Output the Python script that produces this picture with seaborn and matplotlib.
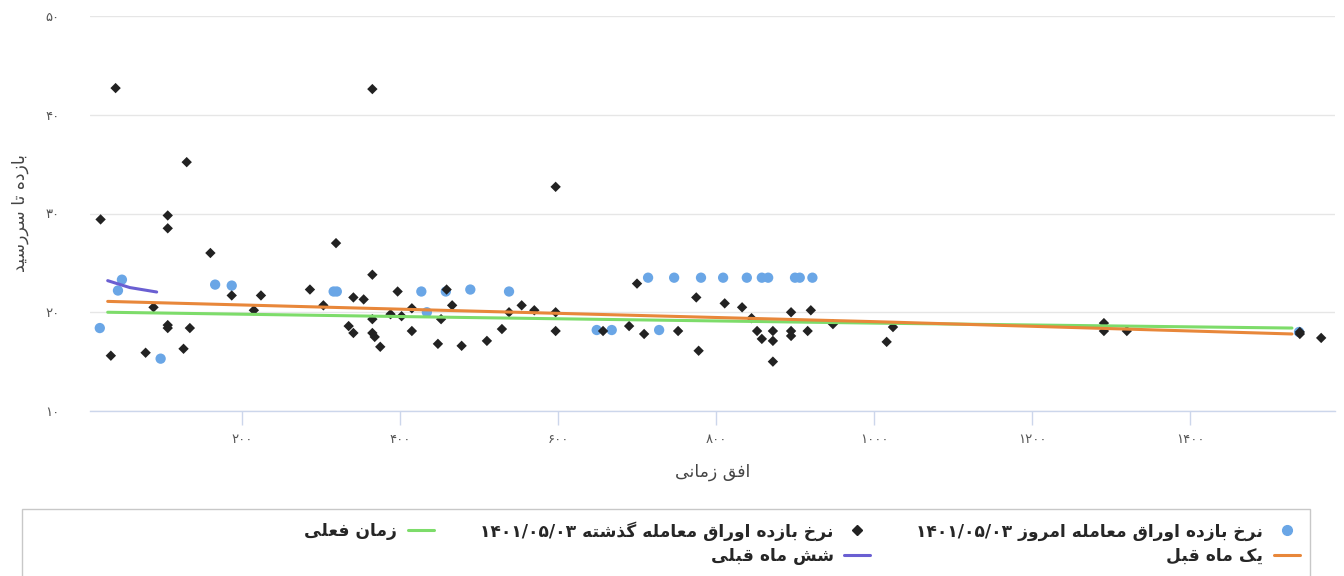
import re
import matplotlib
matplotlib.use("Agg")
import matplotlib.pyplot as plt
from matplotlib.lines import Line2D
from matplotlib.patches import Rectangle
import seaborn as sns
import pandas as pd

# ---------------- data ----------------
today_x = [20, 43, 48, 97, 166, 187, 316, 320, 427, 434, 458, 489, 538,
           649, 668, 728, 714, 747, 781, 809, 839, 858, 866, 900, 906, 922, 1538]
today_y = [18.4, 22.2, 23.3, 15.3, 22.8, 22.7, 22.1, 22.1, 22.1, 20.0, 22.1, 22.3, 22.1,
           18.2, 18.2, 18.2, 23.5, 23.5, 23.5, 23.5, 23.5, 23.5, 23.5, 23.5, 23.5, 23.5, 18.0]

past_x = [21, 40, 34, 78, 88, 106, 106, 106, 106, 130, 126, 134, 160, 187, 224, 215,
          286, 303, 319, 365, 365, 341, 354, 335, 341, 365, 365, 368, 375, 397, 388,
          402, 415, 415, 448, 452, 459, 466, 478, 510, 529, 538, 554, 570, 597, 597,
          597, 657, 690, 700, 709, 752, 775, 778, 811, 833, 845, 852, 858, 872, 872,
          872, 895, 895, 895, 916, 920, 948, 1024, 1016, 1291, 1291, 1320, 1539, 1539, 1566]
past_y = [29.4, 42.7, 15.6, 15.9, 20.5, 29.8, 28.5, 18.7, 18.4, 35.2, 16.3, 18.4, 26.0,
          21.7, 21.7, 20.2, 22.3, 20.7, 27.0, 42.6, 23.8, 21.5, 21.3, 18.6, 17.9, 19.3,
          17.9, 17.5, 16.5, 22.1, 19.8, 19.6, 20.4, 18.1, 16.8, 19.3, 22.3, 20.7, 16.6,
          17.1, 18.3, 20.0, 20.7, 20.2, 32.7, 20.0, 18.1, 18.1, 18.6, 22.9, 17.8, 18.1,
          21.5, 16.1, 20.9, 20.5, 19.4, 18.1, 17.3, 18.1, 17.1, 15.0, 20.0, 18.1, 17.6,
          18.1, 20.2, 18.8, 18.5, 17.0, 18.9, 18.1, 18.1, 18.0, 17.8, 17.4]

now_x = [30, 500, 1000, 1529]
now_y = [20.0, 19.45, 18.9, 18.4]

month_x = [30, 500, 1000, 1529]
month_y = [21.1, 20.1, 19.05, 17.8]

six_x = [30, 58, 92]
six_y = [23.2, 22.5, 22.05]

y_ticks = [10, 20, 30, 40, 50]
x_ticks = [200, 400, 600, 800, 1000, 1200, 1400]

lbl_today = "نرخ بازده اوراق معامله امروز ۱۴۰۱/۰۵/۰۳"
lbl_past = "نرخ بازده اوراق معامله گذشته ۱۴۰۱/۰۵/۰۳"
lbl_now = "زمان فعلی"
lbl_month = "یک ماه قبل"
lbl_six = "شش ماه قبلی"
x_title = "افق زمانی"
y_title = "بازده تا سررسید"

# ---------------- minimal Persian shaping (matplotlib has no RTL layout) ----------------
FORMS = {
    'ا': (0xFE8D, 0xFE8E, None, None), 'ب': (0xFE8F, 0xFE90, 0xFE91, 0xFE92),
    'پ': (0xFB56, 0xFB57, 0xFB58, 0xFB59), 'ت': (0xFE95, 0xFE96, 0xFE97, 0xFE98),
    'ث': (0xFE99, 0xFE9A, 0xFE9B, 0xFE9C), 'ج': (0xFE9D, 0xFE9E, 0xFE9F, 0xFEA0),
    'چ': (0xFB7A, 0xFB7B, 0xFB7C, 0xFB7D), 'ح': (0xFEA1, 0xFEA2, 0xFEA3, 0xFEA4),
    'خ': (0xFEA5, 0xFEA6, 0xFEA7, 0xFEA8), 'د': (0xFEA9, 0xFEAA, None, None),
    'ذ': (0xFEAB, 0xFEAC, None, None), 'ر': (0xFEAD, 0xFEAE, None, None),
    'ز': (0xFEAF, 0xFEB0, None, None), 'ژ': (0xFB8A, 0xFB8B, None, None),
    'س': (0xFEB1, 0xFEB2, 0xFEB3, 0xFEB4), 'ش': (0xFEB5, 0xFEB6, 0xFEB7, 0xFEB8),
    'ص': (0xFEB9, 0xFEBA, 0xFEBB, 0xFEBC), 'ض': (0xFEBD, 0xFEBE, 0xFEBF, 0xFEC0),
    'ط': (0xFEC1, 0xFEC2, 0xFEC3, 0xFEC4), 'ظ': (0xFEC5, 0xFEC6, 0xFEC7, 0xFEC8),
    'ع': (0xFEC9, 0xFECA, 0xFECB, 0xFECC), 'غ': (0xFECD, 0xFECE, 0xFECF, 0xFED0),
    'ف': (0xFED1, 0xFED2, 0xFED3, 0xFED4), 'ق': (0xFED5, 0xFED6, 0xFED7, 0xFED8),
    'ک': (0xFB8E, 0xFB8F, 0xFB90, 0xFB91), 'گ': (0xFB92, 0xFB93, 0xFB94, 0xFB95),
    'ل': (0xFEDD, 0xFEDE, 0xFEDF, 0xFEE0), 'م': (0xFEE1, 0xFEE2, 0xFEE3, 0xFEE4),
    'ن': (0xFEE5, 0xFEE6, 0xFEE7, 0xFEE8), 'ه': (0xFEE9, 0xFEEA, 0xFEEB, 0xFEEC),
    'و': (0xFEED, 0xFEEE, None, None), 'ی': (0xFBFC, 0xFBFD, 0xFBFE, 0xFBFF),
}


def fa(s):
    out = []
    n = len(s)
    for i, c in enumerate(s):
        if c not in FORMS:
            out.append(c)
            continue
        prev = s[i - 1] if i > 0 else ''
        nxt = s[i + 1] if i < n - 1 else ''
        jp = prev in FORMS and FORMS[prev][2] is not None
        jn = nxt in FORMS and FORMS[c][2] is not None
        f = FORMS[c]
        if jp and jn:
            code = f[3]
        elif jp:
            code = f[1]
        elif jn:
            code = f[2]
        else:
            code = f[0]
        out.append(chr(code))
    vis = ''.join(out)[::-1]
    return re.sub(r'[0-9\u06F0-\u06F9]+(?:[/.][0-9\u06F0-\u06F9]+)*',
                  lambda m: m.group(0)[::-1], vis)


def fa_digits(v):
    return str(v).translate(str.maketrans('0123456789', '۰۱۲۳۴۵۶۷۸۹'))


# ---------------- style ----------------
sns.set_theme(style="white")
plt.rcParams['font.family'] = ['DejaVu Sans']

BLUE = "#6aa6e6"
BLACK = "#222222"
GREEN = "#7ddc6a"
ORANGE = "#e8873a"
PURPLE = "#6a5fd2"

fig = plt.figure(figsize=(13.44, 5.76), dpi=100)
ax = fig.add_axes([90 / 1344, 1 - 411 / 576, 1245 / 1344, 395 / 576])

df_today = pd.DataFrame({"x": today_x, "y": today_y})
df_past = pd.DataFrame({"x": past_x, "y": past_y})

sns.scatterplot(data=df_today, x="x", y="y", ax=ax, color=BLUE, marker="o", s=55,
                edgecolor="none", zorder=3, legend=False)
sns.scatterplot(data=df_past, x="x", y="y", ax=ax, color=BLACK, marker="D", s=28,
                edgecolor="none", zorder=4, legend=False)
sns.lineplot(x=now_x, y=now_y, ax=ax, color=GREEN, lw=2.2, zorder=5)
sns.lineplot(x=month_x, y=month_y, ax=ax, color=ORANGE, lw=2.2, zorder=6)
sns.lineplot(x=six_x, y=six_y, ax=ax, color=PURPLE, lw=2.2, zorder=7)

ax.set_xlim(7.6, 1583.5)
ax.set_ylim(10, 50)
ax.set_yticks(y_ticks)
ax.set_yticklabels([fa_digits(v) for v in y_ticks])
ax.set_xticks(x_ticks)
ax.set_xticklabels([fa_digits(v) for v in x_ticks])
ax.grid(axis="y", color="#e6e6e6", lw=1)
ax.grid(axis="x", visible=False)
for side in ["left", "right", "top"]:
    ax.spines[side].set_visible(False)
ax.spines["bottom"].set_color("#ccd6eb")
ax.spines["bottom"].set_linewidth(1)
ax.tick_params(axis="x", length=10, width=1, color="#ccd6eb", pad=6,
               labelsize=9.5, labelcolor="#555555", bottom=True)
ax.tick_params(axis="y", length=0, pad=22, labelsize=9.5, labelcolor="#555555")
ax.set_xlabel(fa(x_title), fontsize=12.5, color="#444444", labelpad=12)
ax.set_ylabel(fa(y_title), fontsize=12.5, color="#444444", labelpad=12)

# ---------------- legend ----------------
h_today = Line2D([], [], marker="o", ls="", color=BLUE, ms=7)
h_past = Line2D([], [], marker="D", ls="", color=BLACK, ms=5)
h_now = Line2D([], [], color=GREEN, lw=2.2)
h_month = Line2D([], [], color=ORANGE, lw=2.2)
h_six = Line2D([], [], color=PURPLE, lw=2.2)
h_blank = Line2D([], [], alpha=0)

handles = [h_now, h_blank, h_past, h_six, h_today, h_month]
labels = [fa(lbl_now), " ", fa(lbl_past), fa(lbl_six), fa(lbl_today), fa(lbl_month)]
fig.legend(handles, labels, ncol=3, markerfirst=False, frameon=False,
           loc="upper right", bbox_to_anchor=(1300 / 1344, 1 - 521 / 576),
           prop={"weight": "bold", "size": 12.3}, columnspacing=2.7,
           handlelength=1.55, handletextpad=0.6, labelspacing=0.35,
           borderaxespad=0, borderpad=0)
fig.patches.append(Rectangle((22 / 1344, -0.05), (1310 - 22) / 1344, 0.05 + (576 - 509) / 576,
                             transform=fig.transFigure, fill=False,
                             edgecolor="#c8c8c8", lw=1))

fig.savefig("out.png", dpi=100)
